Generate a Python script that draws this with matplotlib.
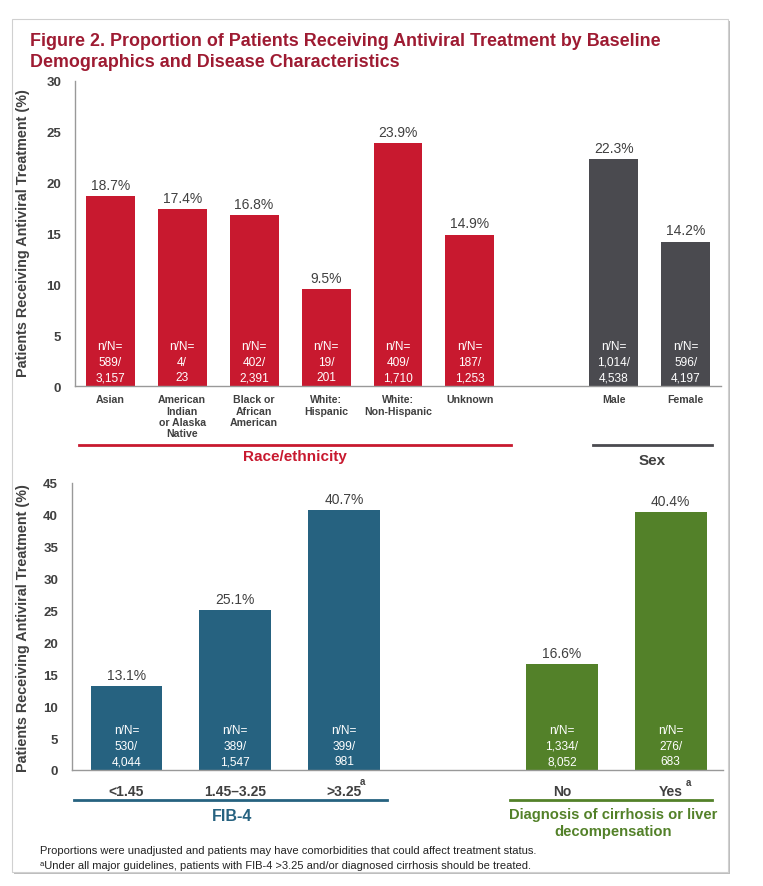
import matplotlib
matplotlib.use("Agg")
import matplotlib.pyplot as plt
from matplotlib.patches import Rectangle

plt.rcParams['font.family'] = ['Liberation Sans', 'DejaVu Sans']

# top panel data
demo_pos = [0, 1, 2, 3, 4, 5, 7, 8]
demo_labels = ['Asian', 'American\nIndian\nor Alaska\nNative', 'Black or\nAfrican\nAmerican',
               'White:\nHispanic', 'White:\nNon-Hispanic', 'Unknown', 'Male', 'Female']
demo_vals = [18.7, 17.4, 16.8, 9.5, 23.9, 14.9, 22.3, 14.2]
demo_n = ['589/', '4/', '402/', '19/', '409/', '187/', '1,014/', '596/']
demo_N = ['3,157', '23', '2,391', '201', '1,710', '1,253', '4,538', '4,197']

# bottom panel data
dis_pos = [0, 1, 2, 4, 5]
dis_labels = ['<1.45', '1.45\u20133.25', '>3.25', 'No', 'Yes']
dis_vals = [13.1, 25.1, 40.7, 16.6, 40.4]
dis_n = ['530/', '389/', '399/', '1,334/', '276/']
dis_N = ['4,044', '1,547', '981', '8,052', '683']

RED = '#C8192F'
GREY = '#4A4A4F'
BLUE = '#266280'
GREEN = '#538129'
TXT = '#404040'

W, H = 763, 887
fig = plt.figure(figsize=(W / 100, H / 100), dpi=100)

# poster frame with shadow
fig.patches.append(Rectangle((14 / W, 1 - 875 / H), 716 / W, 853 / H, transform=fig.transFigure,
                             facecolor='#bdbdbd', edgecolor='none', zorder=-2))
fig.patches.append(Rectangle((12 / W, 1 - 873 / H), 716 / W, 853 / H, transform=fig.transFigure,
                             facecolor='white', edgecolor='#d0d0d0', linewidth=0.8, zorder=-1))

fig.text(30 / W, 1 - 52 / H, 'Figure 2. Proportion of Patients Receiving Antiviral Treatment by Baseline\n'
         'Demographics and Disease Characteristics', color='#9E1B32', fontsize=12.9,
         fontweight='bold', va='center', ha='left', linespacing=1.25)


def style(ax, ymax, step):
    ax.set_ylim(0, ymax)
    ax.set_yticks(range(0, ymax + 1, step))
    ax.patch.set_alpha(0)
    for s in ['top', 'right']:
        ax.spines[s].set_visible(False)
    for s in ['left', 'bottom']:
        ax.spines[s].set_color('#999999')
        ax.spines[s].set_linewidth(1.0)
    ax.tick_params(axis='both', length=0)
    ax.tick_params(axis='y', pad=10)
    for t in ax.get_yticklabels():
        t.set_fontweight('bold')
        t.set_fontsize(9.5)
        t.set_color(TXT)


# ---- top panel
ax1 = fig.add_axes([75 / W, 1 - 387 / H, 646 / W, 305 / H])
cols1 = [RED] * 6 + [GREY] * 2
ax1.bar(demo_pos, demo_vals, width=0.68, color=cols1)
ax1.set_xlim(-0.49, 8.49)
style(ax1, 30, 5)
ax1.set_xticks(demo_pos)
ax1.set_xticklabels(demo_labels, fontsize=7.6, fontweight='bold', color=TXT, linespacing=1.15, va='top')
ax1.tick_params(axis='x', pad=6)
for x, v, n, N in zip(demo_pos, demo_vals, demo_n, demo_N):
    ax1.annotate(f'{v:.1f}%', (x, v), xytext=(0, 3), textcoords='offset points',
                 ha='center', va='bottom', fontsize=10, color=TXT)
    ax1.annotate(f'n/N=\n{n}\n{N}', (x, 0), xytext=(0, 2), textcoords='offset points',
                 ha='center', va='bottom', fontsize=8.6, color='white', linespacing=1.38)

tr1 = ax1.get_xaxis_transform()
ax1.plot([-0.44, 5.57], [-0.193, -0.193], color=RED, lw=2, transform=tr1, clip_on=False)
ax1.plot([6.71, 8.36], [-0.193, -0.193], color=GREY, lw=2, transform=tr1, clip_on=False)
ax1.text(2.57, -0.23, 'Race/ethnicity', color=RED, fontsize=11, fontweight='bold',
         ha='center', va='center', transform=tr1)
ax1.text(7.53, -0.243, 'Sex', color=TXT, fontsize=11, fontweight='bold',
         ha='center', va='center', transform=tr1)

# ---- bottom panel
ax2 = fig.add_axes([72 / W, 1 - 771 / H, 651 / W, 287 / H])
cols2 = [BLUE] * 3 + [GREEN] * 2
ax2.bar(dis_pos, dis_vals, width=0.66, color=cols2)
ax2.set_xlim(-0.5, 5.48)
style(ax2, 45, 5)
ax2.set_xticks(dis_pos)
ax2.set_xticklabels(dis_labels, fontsize=10, fontweight='bold', color=TXT)
ax2.tick_params(axis='x', pad=10)
for x, v, n, N in zip(dis_pos, dis_vals, dis_n, dis_N):
    ax2.annotate(f'{v:.1f}%', (x, v), xytext=(0, 3), textcoords='offset points',
                 ha='center', va='bottom', fontsize=10, color=TXT)
    ax2.annotate(f'n/N=\n{n}\n{N}', (x, 0), xytext=(0, 2), textcoords='offset points',
                 ha='center', va='bottom', fontsize=8.6, color='white', linespacing=1.38)

tr2 = ax2.get_xaxis_transform()
ax2.text(2.17, -0.04, 'a', fontsize=7, fontweight='bold', color=TXT, ha='center', va='center',
         transform=tr2)
ax2.text(5.16, -0.043, 'a', fontsize=7, fontweight='bold', color=TXT, ha='center', va='center',
         transform=tr2)
ax2.plot([-0.48, 2.39], [-0.1045, -0.1045], color=BLUE, lw=2, transform=tr2, clip_on=False)
ax2.plot([3.52, 5.38], [-0.1045, -0.1045], color=GREEN, lw=2, transform=tr2, clip_on=False)
ax2.text(0.97, -0.157, 'FIB-4', color=BLUE, fontsize=11.5, fontweight='bold',
         ha='center', va='center', transform=tr2)
ax2.text(4.47, -0.183, 'Diagnosis of cirrhosis or liver\ndecompensation', color=GREEN,
         fontsize=10.6, fontweight='bold', ha='center', va='center', transform=tr2, linespacing=1.2)

# y labels
for yc in [233, 628]:
    fig.text(23 / W, 1 - yc / H, 'Patients Receiving Antiviral Treatment (%)', rotation=90,
             fontsize=10.4, fontweight='bold', color=TXT, ha='center', va='center')

fig.text(40 / W, 1 - 851 / H, 'Proportions were unadjusted and patients may have comorbidities that could affect treatment status.',
         fontsize=8, color='#222222', ha='left', va='center')
fig.text(40 / W, 1 - 866 / H, '\u1d43Under all major guidelines, patients with FIB-4 >3.25 and/or diagnosed cirrhosis should be treated.',
         fontsize=8, color='#222222', ha='left', va='center')

fig.savefig('out.png', dpi=100)
